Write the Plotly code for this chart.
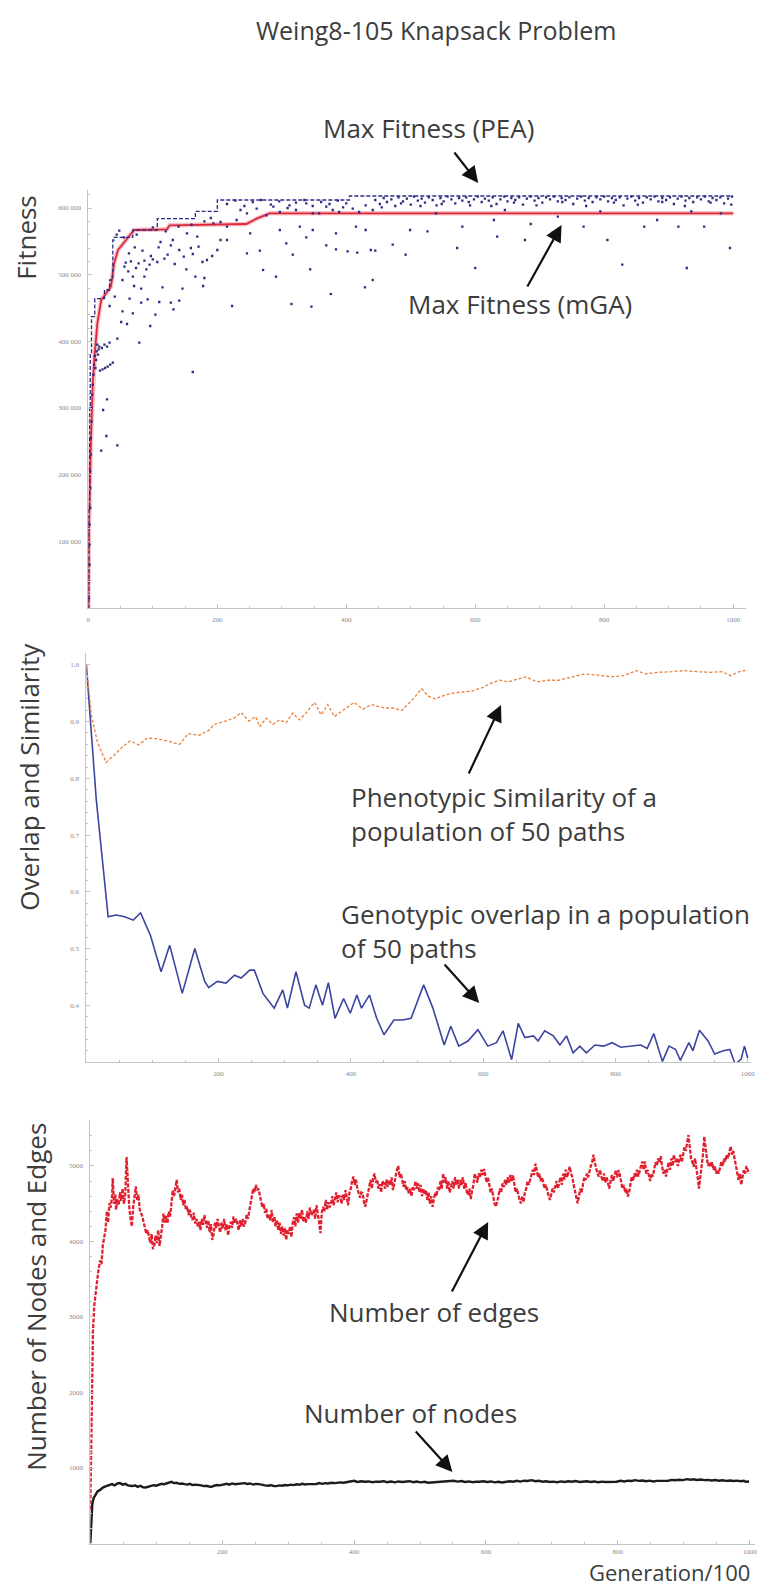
import plotly.graph_objects as go

W, H = 762, 1589

# ---------------- data ----------------
# Top panel: max fitness of the PEA (dashed step line) and mGA (solid red line)
PEA_MAX = [(0, 0), (1, 150000), (2, 300000), (3, 380000), (5, 437000), (10, 464000),
           (25, 477000), (33, 492000), (38, 552000), (40, 556000), (69, 567000),
           (107, 584000), (166, 595000), (200, 612000), (405, 618000), (1000, 618000)]
MGA_MAX = [(0, 0), (1, 120000), (4, 250000), (7, 340000), (10, 382000), (14, 427000),
           (20, 462000), (35, 482000), (40, 517000), (46, 537000), (56, 549000),
           (71, 567000), (122, 568000), (126, 574000), (245, 576000), (261, 584000),
           (281, 592000), (1000, 592000)]
# population fitness samples (dots)
PEA_POP = [
    (1, 15000), (1, 40000), (2, 65000), (2, 95000), (2, 125000), (3, 150000), (3, 180000),
    (3, 205000), (4, 230000), (4, 255000), (5, 280000), (5, 300000), (6, 320000), (7, 335000),
    (8, 350000), (9, 365000), (10, 378000), (11, 360000), (12, 372000), (13, 385000),
    (14, 395000), (15, 380000), (16, 388000), (18, 356000), (22, 358000), (26, 360000),
    (30, 362000), (34, 365000), (38, 368000), (17, 392000), (21, 390000), (25, 395000),
    (29, 392000), (33, 398000), (20, 236000), (45, 244000), (28, 258000), (23, 297000),
    (29, 313000), (162, 354000), (79, 398000), (45, 404000), (96, 423000), (60, 426000),
    (51, 429000), (69, 442000), (82, 458000), (92, 463000), (110, 459000), (128, 458000),
    (141, 461000), (132, 448000), (104, 440000), (64, 464000), (41, 467000), (33, 453000),
    (53, 445000), (71, 483000), (82, 479000), (115, 481000), (146, 479000), (178, 483000),
    (166, 497000), (180, 495000), (53, 492000), (69, 497000), (87, 497000), (271, 507000),
    (291, 497000), (344, 508000), (152, 508000), (56, 512000), (74, 510000), (87, 521000),
    (107, 519000), (123, 530000), (141, 537000), (159, 540000), (171, 542000), (184, 522000),
    (200, 537000), (215, 552000), (246, 532000), (266, 536000), (307, 547000), (317, 530000),
    (338, 556000), (369, 544000), (384, 538000), (402, 535000), (417, 533000), (445, 536000),
    (112, 549000), (128, 544000), (153, 562000), (169, 557000), (205, 552000), (251, 562000),
    (297, 567000), (328, 572000), (348, 567000), (384, 562000), (415, 572000), (430, 567000),
    (194, 577000), (205, 579000), (215, 572000), (230, 582000), (246, 592000), (276, 589000),
    (297, 594000), (322, 597000), (348, 592000), (369, 602000), (389, 594000), (410, 599000),
    (430, 604000), (441, 597000), (236, 597000), (261, 599000), (287, 602000), (312, 604000),
    (338, 607000), (358, 592000), (379, 597000), (400, 607000), (420, 594000),
    (223, 453000), (315, 456000), (346, 452000), (376, 471000), (429, 481000), (441, 492000),
    (58, 518000), (66, 520000), (78, 517000), (95, 515000), (100, 523000), (62, 505000),
    (90, 508000), (44, 560000), (48, 566000), (55, 556000), (75, 560000), (100, 571000),
    (120, 565000), (140, 572000), (160, 575000), (180, 580000), (190, 585000),
    (63, 532000), (72, 541000), (84, 536000), (97, 528000), (118, 524000), (134, 516000),
    (148, 527000), (162, 531000), (177, 519000), (192, 528000), (109, 541000), (131, 552000),
    (215, 606000), (228, 611000), (242, 603000), (255, 609000), (268, 612000), (283, 605000),
    (296, 610000), (309, 600000), (322, 608000), (335, 612000), (348, 603000), (361, 609000),
    (374, 606000), (387, 611000), (395, 601000),
    (539, 592000), (580, 572000), (629, 582000), (686, 576000), (768, 572000), (862, 572000),
    (915, 572000), (955, 572000), (805, 552000), (677, 552000), (634, 557000), (572, 540000),
    (600, 510000), (828, 515000), (928, 510000), (995, 540000), (492, 530000), (438, 537000),
    (472, 545000), (526, 565000), (499, 567000), (720, 563000), (882, 582000), (794, 595000),
    (935, 595000), (981, 592000), (728, 587000), (646, 597000),
    (445, 612000), (452, 606000), (458, 615000), (463, 609000), (470, 613000), (476, 603000),
    (481, 616000), (488, 610000), (494, 614000), (500, 605000), (505, 617000), (511, 611000),
    (517, 614000), (522, 608000), (528, 616000), (534, 612000), (540, 604000), (546, 615000),
    (551, 610000), (557, 617000), (563, 613000), (569, 607000), (575, 615000), (580, 611000),
    (586, 616000), (592, 604000), (598, 613000), (604, 617000), (610, 609000), (615, 614000),
    (621, 611000), (627, 616000), (633, 606000), (639, 613000), (645, 617000), (650, 610000),
    (656, 615000), (662, 612000), (668, 616000), (674, 605000), (680, 614000), (686, 617000),
    (692, 611000), (698, 615000), (704, 608000), (710, 616000), (716, 613000), (722, 617000),
    (728, 610000), (734, 615000), (740, 612000), (746, 616000), (752, 606000), (758, 614000),
    (764, 617000), (770, 611000), (776, 615000), (782, 609000), (788, 616000), (794, 613000),
    (800, 617000), (806, 610000), (812, 615000), (818, 612000), (824, 616000), (830, 604000),
    (836, 614000), (842, 617000), (848, 611000), (854, 615000), (860, 608000), (866, 616000),
    (872, 613000), (878, 617000), (884, 610000), (890, 615000), (896, 612000), (902, 616000),
    (908, 606000), (914, 614000), (920, 617000), (926, 611000), (932, 615000), (938, 609000),
    (944, 616000), (950, 613000), (956, 617000), (962, 610000), (968, 615000), (974, 612000),
    (980, 616000), (986, 607000), (992, 614000), (998, 617000),
    (455, 601000), (485, 607000), (515, 603000), (548, 606000), (590, 609000), (625, 603000),
    (660, 608000), (695, 604000), (735, 609000), (772, 603000), (815, 608000), (852, 605000),
    (890, 609000), (925, 603000), (965, 608000), (997, 605000),
]

# Middle panel: genotypic overlap (blue) and phenotypic similarity (orange)
GENO_OVERLAP = [
    (0, 1.0), (15, 0.763), (33, 0.556), (45, 0.559), (58, 0.556), (71, 0.55), (82, 0.563),
    (97, 0.523), (113, 0.459), (126, 0.506), (145, 0.421), (164, 0.5), (179, 0.442),
    (185, 0.431), (198, 0.442), (211, 0.439), (224, 0.453), (234, 0.448), (247, 0.462),
    (254, 0.462), (267, 0.421), (284, 0.395), (297, 0.427), (304, 0.395), (317, 0.459),
    (330, 0.40), (337, 0.395), (347, 0.436), (357, 0.40), (366, 0.44), (376, 0.377),
    (389, 0.412), (399, 0.386), (409, 0.418), (416, 0.395), (428, 0.418), (439, 0.377),
    (450, 0.348), (465, 0.374), (478, 0.374), (491, 0.377), (510, 0.436), (524, 0.395),
    (541, 0.33), (551, 0.363), (563, 0.328), (577, 0.337), (592, 0.357), (607, 0.328),
    (620, 0.334), (630, 0.355), (643, 0.304), (653, 0.368), (663, 0.343), (676, 0.346),
    (683, 0.337), (693, 0.355), (706, 0.346), (716, 0.33), (726, 0.346), (736, 0.316),
    (746, 0.328), (756, 0.316), (769, 0.33), (782, 0.328), (795, 0.334), (808, 0.326),
    (822, 0.328), (838, 0.33), (848, 0.324), (858, 0.35), (871, 0.301), (881, 0.328),
    (891, 0.322), (898, 0.303), (911, 0.334), (917, 0.32), (927, 0.356), (940, 0.337),
    (950, 0.314), (963, 0.32), (973, 0.322), (981, 0.296), (990, 0.305), (995, 0.328),
    (1000, 0.307),
]
PHENO_SIMILARITY = [
    (0, 1.0), (8, 0.909), (17, 0.863), (30, 0.828), (43, 0.842), (56, 0.857), (66, 0.866),
    (79, 0.859), (92, 0.871), (105, 0.87), (122, 0.866), (141, 0.86), (154, 0.879),
    (171, 0.876), (187, 0.886), (193, 0.895), (210, 0.901), (223, 0.906), (234, 0.916),
    (246, 0.901), (256, 0.909), (262, 0.891), (272, 0.906), (282, 0.895), (292, 0.903),
    (302, 0.898), (312, 0.915), (322, 0.903), (332, 0.915), (345, 0.934), (355, 0.912),
    (365, 0.93), (375, 0.909), (389, 0.921), (405, 0.934), (418, 0.922), (431, 0.93),
    (451, 0.924), (464, 0.924), (477, 0.92), (491, 0.936), (507, 0.958), (517, 0.945),
    (527, 0.94), (543, 0.947), (557, 0.951), (570, 0.952), (583, 0.954), (599, 0.96),
    (612, 0.968), (625, 0.973), (638, 0.97), (652, 0.975), (665, 0.979), (681, 0.97),
    (698, 0.973), (714, 0.973), (730, 0.977), (753, 0.984), (773, 0.982), (793, 0.979),
    (812, 0.981), (832, 0.99), (845, 0.984), (865, 0.987), (885, 0.988), (904, 0.99),
    (924, 0.988), (944, 0.987), (961, 0.988), (974, 0.981), (987, 0.988), (1000, 0.991),
]

# Bottom panel: number of edges (red dashed) and nodes (black)
EDGES = [
    (0, 450), (2, 1500), (4, 2800), (6, 3150), (9, 3400), (12, 3600), (15, 3750), (17, 3700),
    (19, 3950), (21, 4060), (23, 4150), (25, 4400), (27, 4250), (29, 4510), (31, 4450),
    (33, 4600), (34, 4840), (36, 4500), (38, 4620), (39, 4420), (41, 4560), (43, 4480),
    (45, 4650), (47, 4540), (49, 4700), (51, 4500), (53, 4620), (55, 5120), (57, 4700),
    (59, 4460), (61, 4300), (63, 4200), (65, 4450), (67, 4600), (69, 4730), (71, 4550),
    (73, 4620), (75, 4420), (77, 4380), (79, 4330), (81, 4250), (83, 4180), (85, 4100),
    (87, 4150), (89, 4060), (91, 3980), (93, 4100), (95, 3900), (97, 3950), (99, 4080),
    (101, 3980), (103, 4150), (105, 3940), (107, 4060), (109, 4200), (111, 4370), (113, 4250),
    (115, 4340), (117, 4240), (119, 4400), (121, 4330), (123, 4500), (125, 4680), (127, 4600),
    (129, 4720), (131, 4815), (133, 4650), (135, 4700), (137, 4550), (139, 4620), (141, 4480),
    (143, 4550), (145, 4417), (147, 4466), (149, 4350), (151, 4420), (153, 4330), (155, 4285),
    (157, 4380), (159, 4240), (161, 4300), (163, 4200), (165, 4260), (167, 4150), (169, 4300),
    (171, 4220), (173, 4350), (175, 4240), (177, 4180), (179, 4280), (181, 4120), (183, 4230),
    (185, 4020), (187, 4100), (189, 4250), (191, 4180), (193, 4300), (195, 4200), (197, 4120),
    (199, 4250), (201, 4170), (203, 4300), (205, 4150), (207, 4230), (209, 4080), (211, 4200),
    (213, 4260), (215, 4180), (217, 4330), (219, 4240), (221, 4300), (223, 4240), (225, 4150),
    (227, 4280), (229, 4200), (231, 4300), (233, 4197), (235, 4250), (237, 4350), (239, 4300),
    (241, 4420), (243, 4500), (245, 4600), (247, 4700), (249, 4650), (251, 4750), (253, 4680),
    (255, 4700), (257, 4600), (259, 4550), (261, 4450), (263, 4500), (265, 4380), (267, 4430),
    (269, 4300), (271, 4350), (273, 4280), (275, 4417), (277, 4250), (279, 4330), (281, 4200),
    (283, 4285), (285, 4150), (287, 4250), (289, 4100), (291, 4200), (293, 4080), (295, 4180),
    (297, 4020), (299, 4150), (301, 4100), (303, 4200), (305, 4060), (307, 4250), (309, 4320),
    (311, 4200), (313, 4373), (315, 4250), (317, 4380), (319, 4300), (321, 4420), (323, 4260),
    (325, 4330), (327, 4250), (329, 4400), (331, 4300), (333, 4450), (335, 4350), (337, 4373),
    (339, 4420), (341, 4300), (343, 4480), (345, 4380), (347, 4250), (349, 4110), (351, 4380),
    (353, 4460), (355, 4400), (357, 4550), (359, 4420), (361, 4520), (363, 4450), (365, 4505),
    (367, 4600), (369, 4480), (371, 4560), (373, 4650), (375, 4520), (377, 4600), (379, 4595),
    (381, 4500), (383, 4620), (385, 4550), (387, 4680), (389, 4550), (391, 4480), (393, 4650),
    (395, 4700), (397, 4800), (399, 4860), (401, 4750), (403, 4820), (405, 4700), (407, 4640),
    (409, 4580), (411, 4650), (413, 4640), (415, 4520), (417, 4460), (419, 4550), (421, 4650),
    (423, 4750), (425, 4815), (427, 4700), (429, 4850), (431, 4900), (433, 4780), (435, 4820),
    (437, 4700), (439, 4760), (441, 4650), (443, 4800), (445, 4770), (447, 4700), (449, 4820),
    (451, 4720), (453, 4815), (455, 4750), (457, 4850), (459, 4680), (461, 4780), (463, 4900),
    (465, 4950), (467, 5000), (469, 4850), (471, 4900), (473, 4780), (475, 4725), (477, 4800),
    (479, 4680), (481, 4720), (483, 4640), (485, 4700), (487, 4600), (489, 4720), (491, 4680),
    (493, 4800), (495, 4700), (497, 4770), (499, 4650), (501, 4750), (503, 4600), (505, 4700),
    (507, 4620), (509, 4680), (511, 4550), (513, 4650), (515, 4500), (517, 4600), (519, 4460),
    (521, 4560), (523, 4650), (525, 4600), (527, 4720), (529, 4680), (531, 4800), (533, 4700),
    (535, 4900), (537, 4780), (539, 4850), (541, 4700), (543, 4800), (545, 4650), (547, 4725),
    (549, 4800), (551, 4700), (553, 4850), (555, 4750), (557, 4820), (559, 4700), (561, 4815),
    (563, 4750), (565, 4850), (567, 4700), (569, 4780), (571, 4650), (573, 4620), (575, 4700),
    (577, 4560), (579, 4680), (581, 4750), (583, 4900), (585, 4850), (587, 4780), (589, 4900),
    (591, 4850), (593, 4950), (595, 4880), (597, 4960), (599, 4850), (601, 4780), (603, 4850),
    (605, 4725), (607, 4650), (609, 4700), (611, 4580), (613, 4500), (615, 4460), (617, 4520),
    (619, 4600), (621, 4700), (623, 4650), (625, 4770), (627, 4720), (629, 4820), (631, 4750),
    (633, 4850), (635, 4780), (637, 4880), (639, 4800), (641, 4880), (643, 4750), (645, 4650),
    (647, 4700), (649, 4600), (651, 4550), (653, 4505), (655, 4600), (657, 4520), (659, 4650),
    (661, 4700), (663, 4800), (665, 4750), (667, 4815), (669, 4900), (671, 4950), (673, 4880),
    (675, 5030), (677, 4950), (679, 4850), (681, 4900), (683, 4800), (685, 4850), (687, 4770),
    (689, 4700), (691, 4750), (693, 4650), (695, 4600), (697, 4550), (699, 4620), (701, 4700),
    (703, 4650), (705, 4750), (707, 4800), (709, 4700), (711, 4790), (713, 4850), (715, 4750),
    (717, 4900), (719, 4820), (721, 4950), (723, 4850), (725, 4920), (727, 4990), (729, 4900),
    (731, 4850), (733, 4750), (735, 4650), (737, 4550), (739, 4505), (741, 4600), (743, 4700),
    (745, 4650), (747, 4780), (749, 4850), (751, 4815), (753, 4900), (755, 4850), (757, 4950),
    (759, 5000), (761, 5050), (763, 5150), (765, 5050), (767, 4950), (769, 4900), (771, 4860),
    (773, 4950), (775, 4860), (777, 4800), (779, 4900), (781, 4780), (783, 4850), (785, 4770),
    (787, 4700), (789, 4800), (791, 4880), (793, 4800), (795, 4900), (797, 4945), (799, 4850),
    (801, 4945), (803, 4880), (805, 4800), (807, 4700), (809, 4750), (811, 4650), (813, 4700),
    (815, 4595), (817, 4650), (819, 4750), (821, 4860), (823, 4800), (825, 4900), (827, 4850),
    (829, 4950), (831, 4860), (833, 4950), (835, 5000), (837, 5060), (839, 4950), (841, 5060),
    (843, 4900), (845, 4950), (847, 4860), (849, 4800), (851, 4900), (853, 4860), (855, 4950),
    (857, 5050), (859, 5000), (861, 5100), (863, 5050), (865, 5130), (867, 5000), (869, 4900),
    (871, 4950), (873, 4860), (875, 4950), (877, 5050), (879, 4950), (881, 5100), (883, 5000),
    (885, 5150), (887, 5050), (889, 5100), (891, 5000), (893, 5100), (895, 5150), (897, 5050),
    (899, 5150), (901, 5250), (903, 5200), (905, 5300), (907, 5410), (909, 5250), (911, 5100),
    (913, 5050), (915, 4990), (917, 5100), (919, 4990), (921, 4850), (923, 4700), (925, 4850),
    (927, 5000), (929, 5150), (931, 5390), (933, 5200), (935, 5100), (937, 5000), (939, 5050),
    (941, 4990), (943, 5050), (945, 4950), (947, 5000), (949, 4900), (951, 4950), (953, 4900),
    (955, 4990), (957, 5060), (959, 5000), (961, 5100), (963, 5060), (965, 5150), (967, 5100),
    (969, 5200), (971, 5260), (973, 5150), (975, 5200), (977, 5100), (979, 5000), (981, 4900),
    (983, 4815), (985, 4900), (987, 4750), (989, 4850), (991, 4945), (993, 4900), (995, 5000),
    (997, 4945), (999, 4900),
]
NODES = [
    (0, 0), (1, 250), (2, 400), (3, 520), (5, 600), (8, 650), (11, 690), (15, 710), (19, 740),
    (24, 760), (28, 775), (33, 786), (37, 770), (41, 795), (45, 800), (49, 780), (53, 790),
    (57, 770), (61, 765), (64, 760), (68, 770), (72, 750), (76, 765), (80, 745), (84, 742),
    (88, 755), (92, 760), (96, 772), (100, 765), (104, 780), (108, 790), (112, 785), (116, 800),
    (120, 810), (123, 817), (127, 800), (131, 805), (135, 790), (139, 795), (143, 786),
    (147, 780), (151, 790), (155, 775), (160, 780), (164, 777), (168, 770), (172, 760),
    (176, 765), (180, 755), (184, 751), (188, 765), (192, 775), (196, 770), (200, 780),
    (203, 786), (207, 790), (211, 780), (215, 795), (219, 785), (223, 790), (229, 795),
    (234, 800), (238, 788), (242, 795), (247, 780), (251, 790), (256, 786), (260, 775),
    (265, 770), (269, 765), (274, 772), (278, 762), (282, 760), (287, 770), (291, 765),
    (295, 775), (300, 770), (304, 780), (308, 773), (313, 785), (317, 778), (321, 790),
    (326, 782), (330, 786), (334, 786), (339, 795), (343, 788), (347, 800), (352, 790),
    (356, 800), (360, 795), (366, 805), (372, 800), (378, 810), (384, 805), (390, 815),
    (395, 820), (400, 830), (405, 815), (411, 825), (416, 818), (422, 822), (428, 812),
    (433, 820), (439, 817), (445, 825), (450, 812), (456, 820), (462, 810), (467, 822),
    (473, 815), (478, 817), (484, 825), (490, 812), (495, 820), (501, 810), (507, 818),
    (512, 805), (518, 808), (524, 820), (530, 815), (535, 825), (541, 822), (546, 830),
    (551, 830), (557, 820), (563, 828), (568, 815), (574, 822), (580, 812), (585, 820),
    (590, 817), (596, 825), (602, 815), (608, 822), (613, 810), (619, 818), (624, 808),
    (630, 812), (636, 825), (641, 818), (647, 830), (652, 820), (658, 832), (663, 828),
    (669, 839), (675, 825), (680, 830), (686, 818), (691, 825), (697, 815), (702, 820),
    (708, 812), (714, 822), (719, 815), (725, 825), (730, 818), (736, 828), (742, 815),
    (748, 817), (753, 825), (759, 815), (764, 822), (770, 812), (776, 820), (781, 815),
    (787, 817), (793, 825), (798, 818), (804, 830), (810, 822), (815, 832), (821, 828),
    (826, 839), (832, 830), (837, 835), (843, 825), (848, 832), (854, 822), (859, 830),
    (865, 830), (871, 838), (876, 832), (882, 842), (887, 838), (893, 845), (898, 840),
    (905, 852), (910, 845), (915, 850), (920, 842), (926, 848), (931, 839), (937, 842),
    (942, 835), (948, 840), (953, 832), (959, 838), (964, 830), (970, 835), (975, 828),
    (981, 833), (986, 825), (991, 830), (994, 817), (999, 822),
]

TOP_X_TICKS = [0, 200, 400, 600, 800, 1000]
TOP_Y_TICKS = [100000, 200000, 300000, 400000, 500000, 600000]
TOP_Y_LABELS = ["100 000", "200 000", "300 000", "400 000", "500 000", "600 000"]
MID_X_TICKS = [200, 400, 600, 800, 1000]
MID_Y_TICKS = [0.4, 0.5, 0.6, 0.7, 0.8, 0.9, 1.0]
MID_Y_LABELS = ["0.4", "0.5", "0.6", "0.7", "0.8", "0.9", "1.0"]
BOT_X_TICKS = [200, 400, 600, 800, 1000]
BOT_Y_TICKS = [1000, 2000, 3000, 4000, 5000]


def split(pairs):
    return [p[0] for p in pairs], [p[1] for p in pairs]


def px(x):
    return x / W


def py(y):
    return 1 - y / H


AX = "#c4c4c4"
TICKFONT = dict(family="Liberation Serif", size=7, color="#8a8a8a")
TXT = "#3c3c3c"
FONT = "Open Sans"


def axis(domain, rng, tickvals, ticktext, minor_dtick, anchor, standoff=5):
    return dict(domain=domain, range=rng, showline=True, linecolor=AX, linewidth=1,
                ticks="inside", ticklen=4, tickwidth=1, tickcolor=AX,
                tickmode="array", tickvals=tickvals, ticktext=ticktext,
                tickfont=TICKFONT, ticklabelstandoff=standoff,
                showgrid=False, zeroline=False, anchor=anchor, fixedrange=True,
                minor=dict(ticks="inside", ticklen=2, tickcolor=AX, tickwidth=1,
                           dtick=minor_dtick, tick0=0, showgrid=False))


fig = go.Figure()

# ---- top panel
x, y = split(MGA_MAX)
fig.add_trace(go.Scatter(x=x, y=y, mode="lines", xaxis="x", yaxis="y",
                         line=dict(color="rgba(235,120,130,0.45)", width=4.5), hoverinfo="skip"))
fig.add_trace(go.Scatter(x=x, y=y, mode="lines", xaxis="x", yaxis="y",
                         line=dict(color="#e0283c", width=1.8)))
x, y = split(PEA_MAX)
fig.add_trace(go.Scatter(x=x, y=y, mode="lines", xaxis="x", yaxis="y", line_shape="hv",
                         line=dict(color="#2b2b86", width=1.3, dash="4px,2px")))
x, y = split(PEA_POP)
fig.add_trace(go.Scatter(x=x, y=y, mode="markers", xaxis="x", yaxis="y",
                         marker=dict(color="#2a2a80", size=2.3, symbol="square",
                                     line=dict(width=0))))

# ---- middle panel
x, y = split(GENO_OVERLAP)
fig.add_trace(go.Scatter(x=x, y=y, mode="lines", xaxis="x2", yaxis="y2",
                         line=dict(color="#3b44a0", width=1.6)))
x, y = split(PHENO_SIMILARITY)
fig.add_trace(go.Scatter(x=x, y=y, mode="lines", xaxis="x2", yaxis="y2",
                         line=dict(color="#e9803f", width=1.3, dash="3px,2px")))

# ---- bottom panel
x, y = split(EDGES)
fig.add_trace(go.Scatter(x=x, y=y, mode="lines", xaxis="x3", yaxis="y3",
                         line=dict(color="#e0202e", width=2.3, dash="4px,1.5px")))
x, y = split(NODES)
fig.add_trace(go.Scatter(x=x, y=y, mode="lines", xaxis="x3", yaxis="y3",
                         line=dict(color="#1c1c1c", width=2.4)))

# axis layout (pixel positions converted to paper fractions)
top_x = axis([px(87), px(750)], [0, 1020], TOP_X_TICKS, [str(v) for v in TOP_X_TICKS], 50, "y")
top_y = axis([py(608), py(190)], [0, 627000], TOP_Y_TICKS, TOP_Y_LABELS, 20000, "x")
mid_x = axis([px(85), px(755)], [0, 1005], MID_X_TICKS, [str(v) for v in MID_X_TICKS], 50, "y2")
mid_y = axis([py(1062), py(653)], [0.3, 1.021], MID_Y_TICKS, MID_Y_LABELS, 0.02, "x2")
bot_x = axis([px(89), px(759)], [0, 1008], BOT_X_TICKS, [str(v) for v in BOT_X_TICKS], 50, "y3",
             standoff=1)
bot_y = axis([py(1543.5), py(1120)], [0, 5609], BOT_Y_TICKS, [str(v) for v in BOT_Y_TICKS], 200, "x3")
mid_y["minor"]["tick0"] = 0.3
mid_y["minor"]["dtick"] = 0.02

annotations = []


def text(t, x, y, size=26, xanchor="center", yanchor="middle", angle=0, align="center"):
    annotations.append(dict(text=t, x=px(x), y=py(y), xref="paper", yref="paper",
                            showarrow=False, xanchor=xanchor, yanchor=yanchor,
                            textangle=angle, align=align,
                            font=dict(family=FONT, size=size, color=TXT)))


def arrow(tip, tail):
    annotations.append(dict(text="", x=px(tip[0]), y=py(tip[1]), xref="paper", yref="paper",
                            ax=tail[0] - tip[0], ay=tail[1] - tip[1], axref="pixel",
                            ayref="pixel", showarrow=True, arrowhead=2, arrowsize=1.5,
                            arrowwidth=2.2, arrowcolor="#111111", standoff=0,
                            startstandoff=0))


text("Weing8-105 Knapsack Problem", 437, 30, size=25)
text("Fitness", 24, 237, angle=-90)
text("Overlap and Similarity", 27, 777, angle=-90)
text("Number of Nodes and Edges", 34, 1297, angle=-90)
text("Generation/100", 756, 1589, size=22, xanchor="right", yanchor="bottom")

text("Max Fitness (PEA)", 430, 128)
arrow((480, 183), (455, 151))
text("Max Fitness (mGA)", 522, 304)
arrow((564, 225), (529, 288))

text("Phenotypic Similarity of a<br>population of 50 paths", 350, 814,
     xanchor="left", align="left")
arrow((503, 705), (470, 775))
text("Genotypic overlap in a population<br>of 50 paths", 340, 931,
     xanchor="left", align="left")
arrow((481, 1003), (445, 963))

text("Number of edges", 435, 1312)
arrow((490, 1222), (453, 1293))
text("Number of nodes", 412, 1413)
arrow((454, 1472), (416, 1430))

fig.update_layout(
    width=W, height=H, margin=dict(l=0, r=0, t=0, b=0),
    paper_bgcolor="white", plot_bgcolor="white", showlegend=False,
    xaxis=top_x, yaxis=top_y, xaxis2=mid_x, yaxis2=mid_y, xaxis3=bot_x, yaxis3=bot_y,
    annotations=annotations,
)

fig.write_html("out.html")
